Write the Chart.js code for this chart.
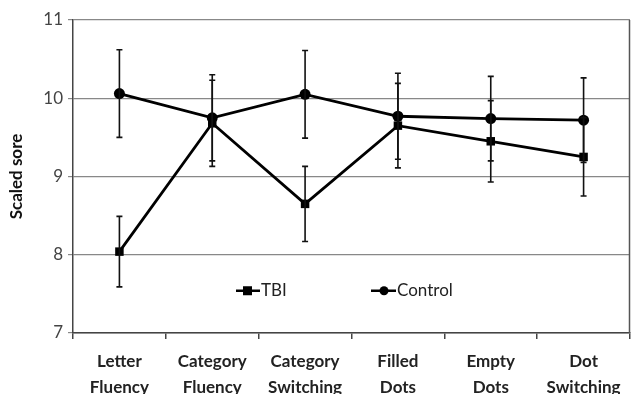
<!DOCTYPE html>
<html><head><meta charset="utf-8">
<script src="https://cdn.jsdelivr.net/npm/chart.js@4.4.1/dist/chart.umd.min.js"></script>
<style>html,body{margin:0;padding:0;background:#fff}#wrap{width:636px;height:394px}</style>
</head><body><div id="wrap"><canvas id="c" width="636" height="394"></canvas></div>
<script>
const categories = [["Letter","Fluency"],["Category","Fluency"],["Category","Switching"],["Filled","Dots"],["Empty","Dots"],["Dot","Switching"]];
const tbiValues = [8.04, 9.68, 8.65, 9.65, 9.45, 9.25];
const tbiErr = [0.45, 0.55, 0.48, 0.54, 0.52, 0.50];
const controlValues = [10.06, 9.75, 10.05, 9.77, 9.74, 9.72];
const controlErr = [0.56, 0.55, 0.56, 0.55, 0.54, 0.54];
const yTicks = [7, 8, 9, 10, 11];
const yTitle = "Scaled sore";

const FONT = "Lato, 'Open Sans', sans-serif";

const errorBars = {
  id: 'errorBars',
  afterDatasetsDraw(chart) {
    const ctx = chart.ctx, ys = chart.scales.y;
    const errs = [tbiErr, controlErr];
    ctx.save();
    ctx.strokeStyle = '#111'; ctx.lineWidth = 1.6;
    chart.data.datasets.forEach((ds, i) => {
      const meta = chart.getDatasetMeta(i);
      meta.data.forEach((pt, j) => {
        const v = ds.data[j], e = errs[i][j];
        const y1 = ys.getPixelForValue(v + e), y2 = ys.getPixelForValue(v - e);
        ctx.beginPath();
        ctx.moveTo(pt.x, y1); ctx.lineTo(pt.x, y2);
        ctx.moveTo(pt.x - 3, y1); ctx.lineTo(pt.x + 3, y1);
        ctx.moveTo(pt.x - 3, y2); ctx.lineTo(pt.x + 3, y2);
        ctx.stroke();
      });
    });
    ctx.restore();
  }
};

const extras = {
  id: 'extras',
  afterDraw(chart) {
    const ctx = chart.ctx, a = chart.chartArea, ys = chart.scales.y;
    ctx.save();
    ctx.strokeStyle = '#555'; ctx.lineWidth = 1.5;
    ctx.beginPath(); ctx.moveTo(a.right - 0.5, a.top); ctx.lineTo(a.right - 0.5, a.bottom); ctx.stroke();
    const ly = ys.getPixelForValue(7.54);
    ctx.strokeStyle = '#000'; ctx.fillStyle = '#000'; ctx.lineWidth = 2.5;
    ctx.beginPath(); ctx.moveTo(236, ly); ctx.lineTo(260, ly); ctx.stroke();
    ctx.fillRect(243, ly - 4.5, 9, 9);
    ctx.beginPath(); ctx.moveTo(371, ly); ctx.lineTo(396, ly); ctx.stroke();
    ctx.beginPath(); ctx.arc(384, ly, 4.5, 0, Math.PI * 2); ctx.fill();
    ctx.fillStyle = '#222'; ctx.font = "17px " + FONT; ctx.textBaseline = 'middle';
    ctx.fillText(chart.data.datasets[0].label, 261, ly);
    ctx.fillText(chart.data.datasets[1].label, 397, ly);
    ctx.restore();
  }
};

new Chart(document.getElementById('c'), {
  type: 'line',
  data: {
    labels: categories,
    datasets: [
      { label: 'TBI', data: tbiValues, borderColor: '#000', backgroundColor: '#000', borderWidth: 2.8,
        pointStyle: 'rect', pointRadius: 6, pointBorderWidth: 0, tension: 0 },
      { label: 'Control', data: controlValues, borderColor: '#000', backgroundColor: '#000', borderWidth: 2.8,
        pointStyle: 'circle', pointRadius: 5.5, pointBorderWidth: 0, tension: 0 }
    ]
  },
  options: {
    responsive: false, animation: false, devicePixelRatio: 1,
    layout: { padding: { top: 20, right: 2, left: 0, bottom: 0 } },
    plugins: { legend: { display: false }, tooltip: { enabled: false } },
    scales: {
      x: {
        offset: true,
        grid: { offset: true, drawOnChartArea: false, drawTicks: true, tickLength: 6, color: '#444', lineWidth: 1.5 },
        border: { display: true, color: '#444', width: 1.5 },
        ticks: { color: '#222', font: { family: FONT, size: 17, weight: 'bold', lineHeight: 1.5 }, maxRotation: 0, autoSkip: false, padding: 10 },
        afterFit(s) { s.height = 61; }
      },
      y: {
        min: 7, max: 11,
        afterBuildTicks(s) { s.ticks = yTicks.map(v => ({ value: v })); },
        grid: { color: '#888', lineWidth: 1.2, drawTicks: true, tickLength: 5 },
        border: { display: true, color: '#444', width: 1.5 },
        ticks: { color: '#444', font: { family: FONT, size: 17 }, padding: 5 },
        title: { display: true, text: yTitle, color: '#111', font: { family: FONT, size: 17, weight: 'bold' }, padding: { top: 6, bottom: 0 } },
        afterFit(s) { s.width = 73; }
      }
    }
  },
  plugins: [errorBars, extras]
});
</script></body></html>
